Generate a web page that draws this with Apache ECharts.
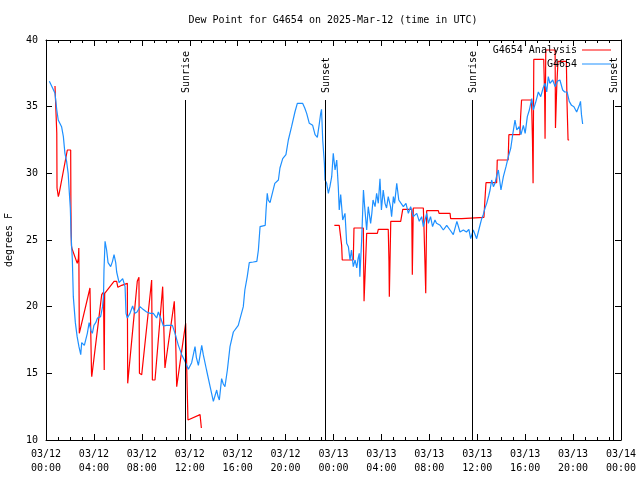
<!DOCTYPE html>
<html><head><meta charset="utf-8">
<script src="https://cdn.jsdelivr.net/npm/echarts@6/dist/echarts.min.js"></script>
<style>html,body{margin:0;padding:0;background:#fff}#c{width:640px;height:480px}</style>
</head><body><div id="c"></div>
<script>
// Time axis: hours since 2025-03-12 00:00 UTC
const xTickLabels = ["03/12\n00:00","03/12\n04:00","03/12\n08:00","03/12\n12:00","03/12\n16:00","03/12\n20:00",
  "03/13\n00:00","03/13\n04:00","03/13\n08:00","03/13\n12:00","03/13\n16:00","03/13\n20:00","03/14\n00:00"];
const sunEventHours = [11.6, 23.29, 35.56, 47.33];
const sunEventNames = ["Sunrise","Sunset","Sunrise","Sunset"];

// Observed dew point (G4654), [hour, degF]
const observed = [[0.28,36.9],[0.5,36.5],[0.75,36.0],[0.9,34.75],[1.02,34.0],[1.3,33.5],[1.45,32.75],[1.58,31.5],[1.72,30.9],[1.85,30.0],[1.95,28.5],[2.03,27.4],[2.1,25.25],[2.2,23.5],[2.28,20.75],[2.45,18.8],[2.6,17.75],[2.75,17.0],[2.9,16.4],[2.98,17.3],[3.2,17.1],[3.3,17.05],[3.45,18.0],[3.6,18.8],[3.75,18.2],[3.87,18.0],[4.0,18.6],[4.15,18.8],[4.3,19.15],[4.56,19.25],[4.72,20.0],[4.8,20.75],[4.84,22.75],[4.93,24.9],[5.06,24.25],[5.18,23.3],[5.4,23.0],[5.55,23.4],[5.68,23.9],[5.82,23.3],[5.9,22.6],[6.1,21.8],[6.25,21.9],[6.4,22.1],[6.6,21.5],[6.68,19.5],[6.79,19.15],[7.01,19.5],[7.23,20.05],[7.43,19.5],[7.6,19.6],[7.85,20.0],[8.1,19.8],[8.4,19.6],[8.7,19.5],[8.96,19.5],[9.24,19.15],[9.38,19.6],[9.57,19.15],[9.8,18.55],[10.07,18.6],[10.55,18.6],[10.77,18.0],[11.05,17.1],[11.33,16.4],[11.6,15.9],[11.88,15.3],[12.16,15.8],[12.44,17.0],[12.55,16.2],[12.72,15.6],[12.85,15.6],[13.0,17.1],[13.13,16.4],[13.4,15.25],[13.7,14.0],[13.97,12.9],[14.25,13.75],[14.35,13.3],[14.47,13.0],[14.66,14.6],[14.8,14.2],[14.94,14.0],[15.14,15.25],[15.36,17.0],[15.64,18.1],[16.05,18.6],[16.2,19.1],[16.47,20.0],[16.6,21.25],[16.8,22.25],[16.97,23.3],[17.3,23.35],[17.6,23.4],[17.73,24.25],[17.87,26.0],[18.3,26.1],[18.37,27.25],[18.47,28.5],[18.55,28.0],[18.7,27.8],[19.1,29.25],[19.4,29.5],[19.53,30.4],[19.76,31.1],[20.03,31.4],[20.23,32.5],[20.5,33.5],[20.78,34.6],[20.98,35.25],[21.42,35.25],[21.6,34.9],[21.76,34.5],[21.98,33.75],[22.26,33.6],[22.46,32.9],[22.65,32.7],[22.82,33.75],[22.93,34.5],[23.0,34.8],[23.04,33.9],[23.1,32.5],[23.24,30.75],[23.29,29.5],[23.43,29.25],[23.57,28.5],[23.7,29.0],[23.85,29.75],[23.98,31.5],[24.13,30.25],[24.27,31.0],[24.4,29.0],[24.48,27.25],[24.6,28.4],[24.77,26.5],[24.96,27.0],[25.1,24.75],[25.24,24.5],[25.38,23.5],[25.5,24.25],[25.65,23.0],[25.8,23.5],[25.94,22.9],[26.05,23.6],[26.15,24.0],[26.2,22.25],[26.35,25.0],[26.5,28.75],[26.6,27.5],[26.77,25.75],[26.9,27.5],[27.1,26.25],[27.2,27.0],[27.3,28.0],[27.47,27.5],[27.6,28.5],[27.74,27.75],[27.88,29.6],[28.0,27.25],[28.15,28.75],[28.3,27.75],[28.43,27.4],[28.57,28.25],[28.76,27.5],[28.85,26.75],[29.0,28.25],[29.1,27.75],[29.28,29.25],[29.45,28.0],[29.6,27.8],[29.83,27.5],[30.05,27.75],[30.25,27.0],[30.44,27.5],[30.66,26.75],[30.95,27.0],[31.16,26.4],[31.36,26.75],[31.5,26.0],[31.78,27.0],[31.92,26.25],[32.1,26.75],[32.27,26.0],[32.47,26.5],[32.6,26.25],[32.9,26.1],[33.17,25.75],[33.45,26.1],[33.73,25.75],[34.0,25.4],[34.3,26.4],[34.56,25.6],[34.84,25.75],[35.1,25.6],[35.3,25.8],[35.45,25.1],[35.67,25.75],[35.95,25.1],[36.17,25.9],[36.37,26.6],[36.5,26.9],[36.65,27.4],[36.79,27.75],[36.95,28.3],[37.07,28.75],[37.2,29.5],[37.35,29.0],[37.48,29.25],[37.62,29.8],[37.76,30.25],[37.98,28.75],[38.18,29.75],[38.4,30.5],[38.6,31.25],[38.8,31.9],[38.96,32.9],[39.15,34.0],[39.3,33.25],[39.5,33.5],[39.65,32.9],[39.85,33.6],[40.0,33.0],[40.18,34.25],[40.35,34.75],[40.55,35.6],[40.68,34.75],[40.9,35.4],[41.1,36.1],[41.3,35.75],[41.5,36.4],[41.66,36.75],[41.8,36.1],[41.93,37.25],[42.07,36.75],[42.3,37.0],[42.5,36.5],[42.68,36.9],[42.9,37.0],[43.13,36.25],[43.3,36.1],[43.5,36.1],[43.68,35.4],[43.87,35.1],[44.07,35.0],[44.3,34.6],[44.52,35.1],[44.62,35.4],[44.7,34.4],[44.8,33.7]];

// Analysis dew point (G4654 Analysis), [hour, degF], two segments
const analysisDay1 = [[0.75,36.55],[0.89,36.55],[0.9,33.0],[0.92,28.9],[1.03,28.25],[1.1,28.5],[1.78,31.75],[2.06,31.75],[2.08,27.5],[2.1,25.75],[2.12,24.6],[2.15,24.4],[2.61,23.25],[2.7,23.6],[2.74,24.4],[2.78,18.0],[2.88,17.9],[3.67,21.4],[3.8,15.0],[3.82,14.75],[3.95,14.75],[4.65,20.9],[4.8,21.1],[4.86,15.25],[4.9,21.0],[5.68,21.9],[5.9,21.9],[6.0,21.45],[6.32,21.6],[6.79,21.75],[6.82,14.25],[6.85,14.25],[7.62,21.9],[7.76,22.2],[7.8,15.0],[7.99,14.9],[8.82,22.0],[8.85,22.0],[8.88,14.5],[9.1,14.5],[9.74,21.5],[9.88,21.5],[9.93,15.4],[10.02,16.0],[10.71,20.4],[10.83,17.25],[10.91,14.0],[11.05,14.1],[11.52,17.9],[11.66,18.75],[11.8,18.75],[11.85,11.5],[11.88,11.4],[12.86,11.9],[12.94,11.9],[12.97,10.9]];
const analysisDay2 = [[24.07,26.1],[24.48,26.1],[24.54,26.25],[24.6,26.0],[24.68,24.6],[24.73,23.5],[25.65,23.5],[25.71,25.9],[26.49,25.9],[26.55,20.4],[26.63,20.4],[26.77,25.5],[27.66,25.5],[27.74,25.8],[28.57,25.8],[28.63,23.4],[28.66,20.75],[28.78,26.4],[29.61,26.4],[29.78,27.3],[30.53,27.3],[30.58,22.4],[30.66,27.4],[31.5,27.4],[31.56,25.75],[31.64,23.1],[31.7,21.0],[31.78,27.2],[32.75,27.2],[32.81,27.0],[33.73,27.0],[33.78,26.6],[34.7,26.6],[34.78,26.7],[36.56,26.7],[36.64,28.0],[36.73,29.3],[37.62,29.3],[37.67,31.0],[38.58,31.0],[38.64,32.9],[39.56,32.9],[39.62,34.25],[39.7,35.5],[40.53,35.5],[40.61,32.5],[40.66,29.25],[40.72,38.55],[41.55,38.55],[41.63,35.6],[41.66,32.6],[41.72,39.25],[42.5,39.25],[42.53,33.4],[42.6,33.4],[42.64,36.6],[42.7,36.6],[42.74,38.4],[43.44,38.4],[43.49,35.4],[43.58,32.5],[43.67,32.5]];

const FONT = "'DejaVu Sans Mono', 'Liberation Mono', monospace";
const txt = {fontFamily: FONT, fontSize: 10, color: '#000'};

const chart = echarts.init(document.getElementById('c'), null, {renderer: 'canvas'});

function xAxisCfg(pos, labels) {
  return {
    type: 'value', min: 0, max: 48, interval: 4, position: pos,
    axisLine: {show: true, onZero: false, lineStyle: {color: '#000', width: 1}},
    axisTick: {show: true, inside: true, length: 6, lineStyle: {color: '#000', width: 1}},
    minorTick: {show: true, splitNumber: 4, length: 3, lineStyle: {color: '#000', width: 1}},
    splitLine: {show: false}, minorSplitLine: {show: false},
    axisLabel: labels ? Object.assign({show: true, margin: 7, lineHeight: 14, showMinLabel: true, showMaxLabel: true,
      formatter: v => xTickLabels[Math.round(v / 4)]}, txt) : {show: false}
  };
}
function yAxisCfg(pos, labels) {
  const a = {
    type: 'value', min: 10, max: 40, interval: 5, position: pos,
    axisLine: {show: true, onZero: false, lineStyle: {color: '#000', width: 1}},
    axisTick: {show: true, inside: true, length: 6, lineStyle: {color: '#000', width: 1}},
    splitLine: {show: false},
    axisLabel: labels ? Object.assign({show: true, margin: 8}, txt) : {show: false}
  };
  if (labels) {
    a.name = 'degrees F'; a.nameLocation = 'middle'; a.nameGap = 32;
    a.nameTextStyle = Object.assign({}, txt);
  }
  return a;
}

const legendCommon = {
  orient: 'vertical', align: 'right', right: 29, icon: 'rect', itemWidth: 29, itemHeight: 1,
  selectedMode: false, padding: 0, textStyle: Object.assign({}, txt)
};

chart.setOption({
  animation: false,
  backgroundColor: '#fff',
  title: {text: 'Dew Point for G4654 on 2025-Mar-12 (time in UTC)', left: 333, textAlign: 'center', top: 15, padding: 0,
    textStyle: Object.assign({fontWeight: 'normal'}, txt)},
  grid: {left: 46, right: 19, top: 40, bottom: 40, containLabel: false, outerBoundsMode: 'none'},
  legend: [
    Object.assign({data: ['G4654 Analysis'], top: 45}, legendCommon),
    Object.assign({data: ['G4654'], top: 59}, legendCommon)
  ],
  xAxis: [xAxisCfg('bottom', true), xAxisCfg('top', false)],
  yAxis: [yAxisCfg('left', true), yAxisCfg('right', false)],
  series: [
    {name: 'G4654 Analysis', type: 'line', xAxisIndex: 0, yAxisIndex: 0, showSymbol: false, symbol: 'none',
      connectNulls: false, color: '#ff0000', lineStyle: {color: '#ff0000', width: 1.2},
      data: analysisDay1.concat([[18, '-']], analysisDay2)},
    {name: 'G4654', type: 'line', xAxisIndex: 0, yAxisIndex: 0, showSymbol: false, symbol: 'none',
      color: '#1e90ff', lineStyle: {color: '#1e90ff', width: 1.2}, data: observed,
      markLine: {silent: true, symbol: ['none', 'none'], label: {show: false},
        lineStyle: {color: '#000', width: 1, type: 'solid'},
        data: sunEventHours.map(h => [{coord: [h, 10]}, {coord: [h, 35.5]}])}}
  ]
});

const g = sunEventHours.map((h, i) => {
  const p = chart.convertToPixel({xAxisIndex: 0, yAxisIndex: 0}, [h, 35.5]);
  return {type: 'text', x: Math.round(p[0]) + 1, y: p[1] - 7, rotation: Math.PI / 2, z: 100,
    style: {text: sunEventNames[i], font: "10px 'DejaVu Sans Mono'", fill: '#000', textAlign: 'left', textVerticalAlign: 'middle'}};
});
chart.setOption({graphic: g});
</script></body></html>
